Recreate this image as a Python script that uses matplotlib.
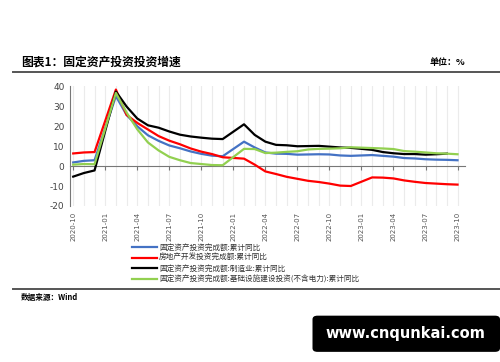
import matplotlib
matplotlib.use('Agg')
import matplotlib.pyplot as plt
from matplotlib.patches import FancyBboxPatch
import numpy as np

plt.rcParams['font.family'] = ['Noto Sans CJK SC', 'DejaVu Sans']

# months since 2020-10 (no January values: Jan-Feb reported together)
months = ['2020-10', '2020-11', '2020-12',
          '2021-02', '2021-03', '2021-04', '2021-05', '2021-06', '2021-07',
          '2021-08', '2021-09', '2021-10', '2021-11', '2021-12',
          '2022-02', '2022-03', '2022-04', '2022-05', '2022-06', '2022-07',
          '2022-08', '2022-09', '2022-10', '2022-11', '2022-12',
          '2023-02', '2023-03', '2023-04', '2023-05', '2023-06', '2023-07',
          '2023-08', '2023-09', '2023-10']

fai_total = [1.8, 2.6, 2.9, 35.0, 25.6, 19.9, 15.4, 12.6, 10.3, 8.9, 7.3, 6.1,
             5.2, 4.9, 12.2, 9.3, 6.8, 6.2, 6.1, 5.7, 5.8, 5.9, 5.8, 5.3, 5.1,
             5.5, 5.1, 4.7, 4.0, 3.8, 3.4, 3.2, 3.1, 2.9]
real_estate = [6.3, 6.8, 7.0, 38.3, 25.6, 21.6, 18.3, 15.0, 12.7, 10.9, 8.8,
               7.2, 6.0, 4.4, 3.7, 0.7, -2.7, -4.0, -5.4, -6.4, -7.4, -8.0,
               -8.8, -9.8, -10.0, -5.7, -5.8, -6.2, -7.2, -7.9, -8.5, -8.8,
               -9.1, -9.3]
manufacturing = [-5.3, -3.5, -2.2, 37.3, 29.8, 23.8, 20.4, 19.2, 17.3, 15.7,
                 14.8, 14.2, 13.7, 13.5, 20.9, 15.6, 12.2, 10.6, 10.4, 9.9,
                 10.0, 10.1, 9.7, 9.3, 9.1, 8.1, 7.0, 6.4, 6.0, 6.0, 5.7, 5.9,
                 6.2]
infra = [0.7, 1.0, 0.9, 36.6, 26.8, 18.4, 11.8, 7.8, 4.6, 2.9, 1.5, 1.0, 0.5,
         0.4, 8.6, 8.5, 6.5, 6.7, 7.1, 7.4, 8.3, 8.6, 8.7, 8.9, 9.4, 9.0, 8.8,
         8.5, 7.5, 7.2, 6.8, 6.4, 6.2, 5.9]

tick_labels = ['2020-10', '2021-01', '2021-04', '2021-07', '2021-10',
               '2022-01', '2022-04', '2022-07', '2022-10', '2023-01',
               '2023-04', '2023-07', '2023-10']

series_names = ['固定资产投资完成额:累计同比',
                '房地产开发投资完成额:累计同比',
                '固定资产投资完成额:制造业:累计同比',
                '固定资产投资完成额:基础设施建设投资(不含电力):累计同比']
colors = ['#4472C4', '#FF0000', '#000000', '#92D050']


def month_index(s):
    y, m = s.split('-')
    return (int(y) - 2020) * 12 + int(m) - 10


x = np.array([month_index(m) for m in months])

fig = plt.figure(figsize=(5, 3.62), dpi=100)
ax = fig.add_axes([0.14, 0.431, 0.79, 0.331])

# spine position first: it resets the ticks
ax.spines['top'].set_visible(False)
ax.spines['right'].set_visible(False)
ax.spines['bottom'].set_position(('data', 0))
ax.spines['bottom'].set_color('#777777')
ax.spines['left'].set_color('#777777')

for xv in range(0, 37):
    ax.axvline(xv, color='#EBEBEB', lw=0.8, zorder=0)

lines = []
for vals, c in zip([fai_total, real_estate, manufacturing, infra], colors):
    ln, = ax.plot(x[:len(vals)], vals, color=c, lw=1.6, zorder=3)
    lines.append(ln)

ax.set_ylim(-20, 40)
ax.set_xlim(-0.3, 36.7)
ax.set_yticks(range(-20, 41, 10))
ax.set_yticklabels([str(v) for v in range(-20, 41, 10)], fontsize=6.5,
                   color='#444444', family='DejaVu Sans')
ax.set_xticks([month_index(t) for t in tick_labels])
ax.set_xticklabels(tick_labels, rotation=90, fontsize=5, color='#555555',
                   family='DejaVu Sans')
ax.tick_params(axis='x', direction='out', length=3, color='#777777', pad=30)
ax.tick_params(axis='y', length=0, pad=4)

leg = fig.legend(lines, series_names, loc='upper left',
                 bbox_to_anchor=(0.258, 0.336), frameon=False, fontsize=5.5,
                 handlelength=3.3, handletextpad=0.25, labelspacing=0.36,
                 borderaxespad=0)
for t in leg.get_texts():
    t.set_color('#333333')

fig.text(0.042, 0.828, '图表1：固定资产投资投资增速', fontsize=8.5,
         fontweight='bold', va='center')
fig.text(0.93, 0.828, '单位：%', fontsize=6.5, fontweight='bold',
         va='center', ha='right')
fig.add_artist(plt.Line2D([0.025, 1.0], [0.8, 0.8], color='#555555', lw=1.4))
fig.add_artist(plt.Line2D([0.025, 1.0], [0.203, 0.203], color='#555555',
                          lw=1.4))
fig.text(0.042, 0.178, '数据来源：Wind', fontsize=5.5, fontweight='bold',
         va='center')

box = FancyBboxPatch((0.625, 0.028), 0.375, 0.1,
                     boxstyle='round,pad=0,rounding_size=0.01',
                     transform=fig.transFigure, facecolor='black',
                     edgecolor='none')
fig.add_artist(box)
fig.text(0.81, 0.078, 'www.cnqunkai.com', color='white', fontsize=10.5,
         fontweight='bold', ha='center', va='center', family='DejaVu Sans')

fig.savefig('out.png', dpi=100)
